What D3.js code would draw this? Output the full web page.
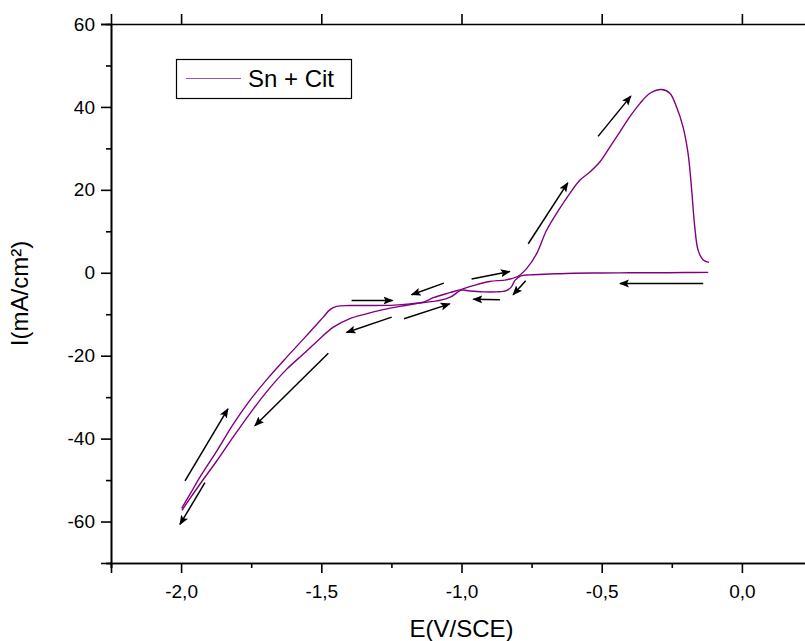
<!DOCTYPE html>
<html>
<head>
<meta charset="utf-8">
<script src="https://cdn.jsdelivr.net/npm/d3@7"></script>
<style>
  html, body { margin: 0; padding: 0; background: #fff; }
  svg { display: block; font-family: "Liberation Sans", Arial, sans-serif; }
</style>
</head>
<body>
<svg id="chart" width="805" height="641"></svg>
<script>
// ---- Data (E in V/SCE, I in mA/cm²) ----
const seriesName = "Sn + Cit";

// cathodic scan: starts at -0.12 V and goes to -2.0 V
const cathodicE = [-0.12, -0.2, -0.3, -0.4, -0.5, -0.6, -0.685, -0.756, -0.79, -0.81, -0.822, -0.84, -0.875, -0.923, -0.97, -1.0, -1.04, -1.08, -1.10, -1.16, -1.22, -1.28, -1.34, -1.40, -1.457, -1.51, -1.564, -1.624, -1.69, -1.754, -1.814, -1.873, -1.933, -1.97, -1.997];
const cathodicI = [0.1, 0.05, 0.0, 0.0, -0.05, -0.1, -0.3, -0.5, -0.8, -1.9, -3.4, -4.3, -4.6, -4.6, -4.4, -4.2, -5.9, -6.7, -6.9, -7.4, -8.1, -8.9, -9.9, -11.1, -13.1, -16.2, -19.6, -23.3, -28.3, -33.9, -39.6, -45.4, -51.0, -54.6, -57.3];

// anodic (return) scan: from -2.0 V back to -0.12 V
const anodicE = [-1.998, -1.968, -1.933, -1.873, -1.814, -1.754, -1.69, -1.624, -1.564, -1.529, -1.493, -1.469, -1.445, -1.40, -1.34, -1.24, -1.184, -1.137, -1.10, -1.042, -1.0, -0.958, -0.90, -0.84, -0.80, -0.768, -0.732, -0.697, -0.649, -0.614, -0.578, -0.542, -0.507, -0.471, -0.435, -0.40, -0.364, -0.328, -0.287, -0.257, -0.233, -0.21, -0.192, -0.18, -0.168, -0.156, -0.138, -0.117];
const anodicI = [-56.8, -53.4, -49.3, -43.0, -36.5, -30.7, -25.4, -20.4, -16.0, -13.4, -10.7, -8.9, -8.1, -7.9, -7.9, -7.8, -7.5, -7.1, -6.0, -4.8, -4.0, -3.1, -2.1, -1.7, -0.9, 1.0, 4.6, 10.2, 15.6, 19.1, 22.3, 24.3, 26.7, 30.3, 34.0, 37.6, 40.8, 43.3, 44.2, 43.3, 40.0, 35.2, 28.8, 20.7, 11.0, 5.4, 3.1, 2.5];

// scan-direction arrows: [E start, I start, E end, I end]
const arrowStartE = [-1.986, -1.915, -1.475, -1.392, -1.063, -1.249, -1.205, -0.964, -0.771, -0.863, -0.762, -0.513, -0.138];
const arrowStartI = [-50.2, -50.6, -19.4, -6.7, -2.5, -10.7, -11.1, -1.5, -1.9, -6.5, 7.0, 32.9, -2.6];
const arrowEndE   = [-1.833, -2.004, -1.737, -1.246, -1.178, -1.410, -1.042, -0.828, -0.816, -0.958, -0.621, -0.396, -0.435];
const arrowEndI   = [-32.8, -60.7, -36.9, -6.7, -5.3, -14.4, -7.5, 0.3, -5.3, -6.4, 21.7, 42.6, -2.6];

// axis ticks
const xMajorTicks = [-2.0, -1.5, -1.0, -0.5, 0.0];
const xMinorTicks = [-2.25, -1.75, -1.25, -0.75, -0.25];
const yMajorTicks = [-60, -40, -20, 0, 20, 40, 60];
const yMinorTicks = [-70, -50, -30, -10, 10, 30, 50];

// ---- Layout ----
const svg = d3.select("#chart");
const x = d3.scaleLinear().domain([-2.25, 0.25]).range([111, 812]);
const y = d3.scaleLinear().domain([-70, 60]).range([563, 24]);
const purple = "#800080";

// axes
const fmtX = d => d.toFixed(1).replace(".", ",");
const fmtY = d => String(d);

function styleAxis(g) {
  g.selectAll("path.domain").attr("stroke", "#000").attr("stroke-width", 1.6);
  g.selectAll(".tick line").attr("stroke", "#000").attr("stroke-width", 1.6);
  g.selectAll(".tick text").attr("fill", "#000").style("font-size", "19px")
    .style("font-family", '"Liberation Sans", Arial, sans-serif');
}

// bottom
const gB = svg.append("g").attr("transform", `translate(0,${y(-70)})`)
  .call(d3.axisBottom(x).tickValues(xMajorTicks).tickSize(10).tickPadding(12).tickFormat(fmtX));
styleAxis(gB);
const gBm = svg.append("g").attr("transform", `translate(0,${y(-70)})`)
  .call(d3.axisBottom(x).tickValues(xMinorTicks).tickSize(5).tickFormat(""));
styleAxis(gBm);

// top
const gT = svg.append("g").attr("transform", `translate(0,${y(60)})`)
  .call(d3.axisTop(x).tickValues(xMajorTicks).tickSize(10).tickFormat(""));
styleAxis(gT);

// left
const gL = svg.append("g").attr("transform", `translate(${x(-2.25)},0)`)
  .call(d3.axisLeft(y).tickValues(yMajorTicks).tickSize(10).tickPadding(6).tickFormat(fmtY));
styleAxis(gL);
const gLm = svg.append("g").attr("transform", `translate(${x(-2.25)},0)`)
  .call(d3.axisLeft(y).tickValues(yMinorTicks).tickSize(5).tickFormat(""));
styleAxis(gLm);

// right (off-canvas, as in reference)
const gR = svg.append("g").attr("transform", `translate(${x(0.25)},0)`)
  .call(d3.axisRight(y).tickValues(yMajorTicks).tickSize(10).tickFormat(""));
styleAxis(gR);

// axis titles
svg.append("text")
  .attr("x", (x(-2.25) + x(0.25)) / 2).attr("y", 636.5)
  .attr("text-anchor", "middle").style("font-size", "24px").attr("fill", "#000")
  .text("E(V/SCE)");
svg.append("text")
  .attr("transform", `translate(28,${(y(60) + y(-70)) / 2}) rotate(-90)`)
  .attr("text-anchor", "middle").style("font-size", "24px").attr("fill", "#000")
  .text("I(mA/cm²)");

// curves
const line = d3.line().x(d => x(d[0])).y(d => y(d[1])).curve(d3.curveCatmullRom.alpha(0.5));
const cathodic = cathodicE.map((e, i) => [e, cathodicI[i]]);
const anodic = anodicE.map((e, i) => [e, anodicI[i]]);
[cathodic, anodic].forEach(data => {
  svg.append("path").datum(data).attr("d", line)
    .attr("fill", "none").attr("stroke", purple).attr("stroke-width", 1.4)
    .attr("stroke-linejoin", "round");
});

// arrows
const defs = svg.append("defs");
defs.append("marker").attr("id", "ah")
  .attr("viewBox", "0 0 10 10").attr("refX", 9).attr("refY", 5)
  .attr("markerWidth", 10).attr("markerHeight", 10).attr("markerUnits", "userSpaceOnUse")
  .attr("orient", "auto")
  .append("path").attr("d", "M0,1 L10,5 L0,9 L2,5 Z").attr("fill", "#000");

arrowStartE.forEach((e, i) => {
  svg.append("line")
    .attr("x1", x(e)).attr("y1", y(arrowStartI[i]))
    .attr("x2", x(arrowEndE[i])).attr("y2", y(arrowEndI[i]))
    .attr("stroke", "#000").attr("stroke-width", 1.5)
    .attr("marker-end", "url(#ah)");
});

// legend
const lg = svg.append("g");
lg.append("rect").attr("x", 176.5).attr("y", 59.5).attr("width", 175).attr("height", 39)
  .attr("fill", "#fff").attr("stroke", "#000").attr("stroke-width", 1.2);
lg.append("line").attr("x1", 186).attr("x2", 241).attr("y1", 78.5).attr("y2", 78.5)
  .attr("stroke", "#a850a8").attr("stroke-width", 1.2);
lg.append("text").attr("x", 248).attr("y", 87).style("font-size", "24px").attr("fill", "#000")
  .text(seriesName);
</script>
</body>
</html>
